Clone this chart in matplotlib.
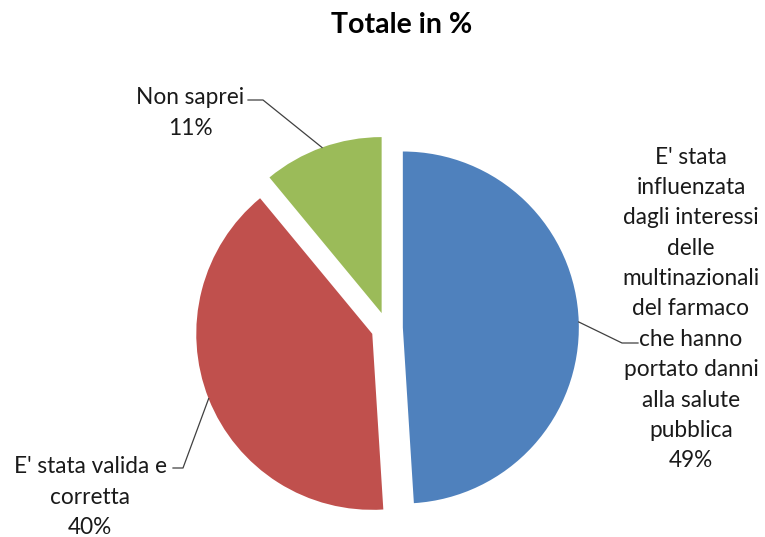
import matplotlib
matplotlib.use("Agg")
import matplotlib.pyplot as plt
import numpy as np

plt.rcParams['font.family'] = ['Lato', 'DejaVu Sans']

# dati
categorie = ["E' stata\ninfluenzata\ndagli interessi\ndelle\nmultinazionali\ndel farmaco\nche hanno\nportato danni\nalla salute\npubblica",
             "E' stata valida e\ncorretta",
             "Non saprei"]
valori = [49, 40, 11]
colori = ['#4F81BD', '#C0504D', '#9BBB59']
titolo = "Totale in %"

W, H = 765, 537
CX, CY, R = 387, 328, 176  # centro e raggio in pixel


def px(x, y):
    # pixel (dall'alto a sinistra) -> coordinate dati
    return (x - CX) / R, (CY - y) / R


fig = plt.figure(figsize=(W / 100, H / 100), dpi=100)
ax = fig.add_axes([0, 0, 1, 1])
wedges, _ = ax.pie(valori, colors=colori, startangle=90, counterclock=False,
                   explode=[0.09, 0.09, 0.09], radius=1,
                   wedgeprops=dict(linewidth=0))
ax.set_aspect('auto')
ax.set_xlim(px(0, 0)[0], px(W, 0)[0])
ax.set_ylim(px(0, H)[1], px(0, 0)[1])
ax.axis('off')

# etichette: centro del blocco di testo, gomito, fine trattino
etichette = [
    dict(txt=(691, 309), gomito=(622, 343), trattino=(638, 343)),
    dict(txt=(90, 497), gomito=(183, 468), trattino=(173, 468)),
    dict(txt=(190, 113), gomito=(263, 100), trattino=(248, 100)),
]

for w, v, cat, e in zip(wedges, valori, categorie, etichette):
    ang = np.deg2rad((w.theta1 + w.theta2) / 2)
    cx, cy = w.center
    ax_, ay_ = cx + w.r * np.cos(ang), cy + w.r * np.sin(ang)
    gx, gy = px(*e['gomito'])
    tx, ty = px(*e['trattino'])
    ax.plot([ax_, gx, tx], [ay_, gy, ty], color='#404040', lw=0.9)
    x0, y0 = px(*e['txt'])
    ax.text(x0, y0, f"{cat}\n{v}%", ha='center', va='center', fontsize=16.3,
            linespacing=1.55, color='#1a1a1a', transform=ax.transData)

fig.text(402 / W, 1 - 25 / H, titolo, ha='center', va='center',
         fontsize=20.5, fontweight='bold', color='black')

fig.savefig('out.png', dpi=100)
